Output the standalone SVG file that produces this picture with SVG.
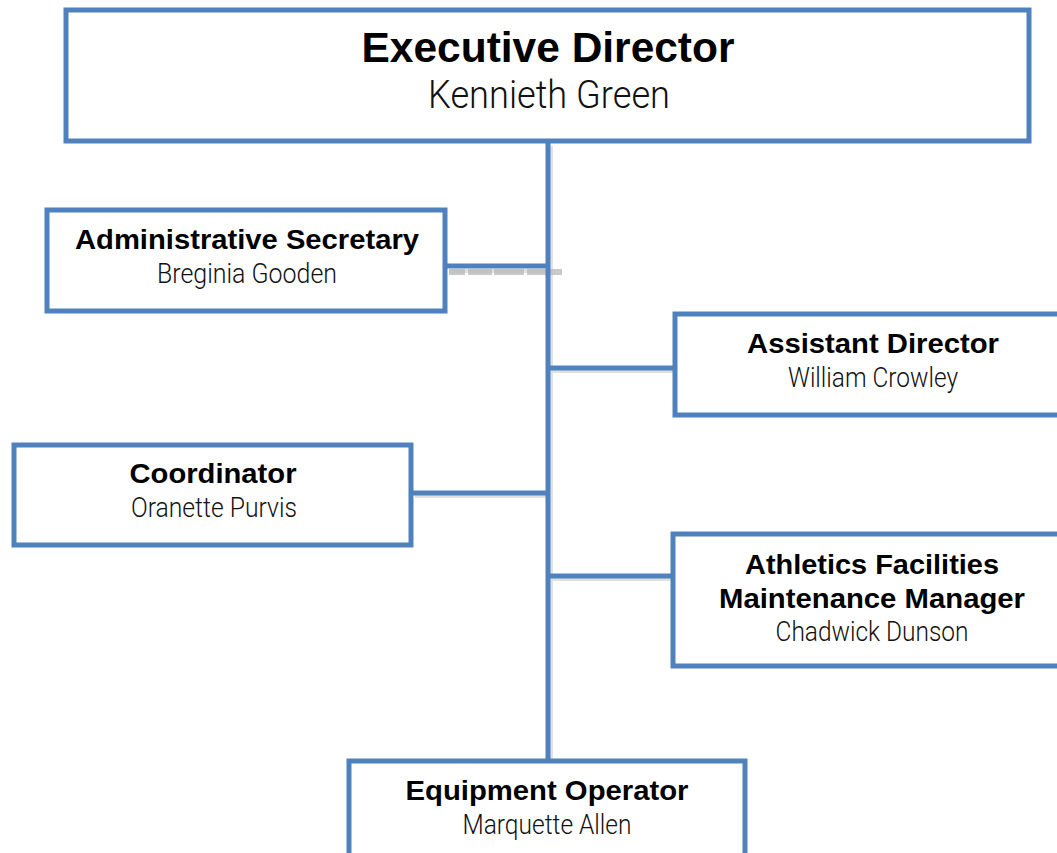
<svg xmlns="http://www.w3.org/2000/svg" width="1057" height="853" viewBox="0 0 1057 853">
<style>
.box{fill:#fff;stroke:#4F81BD;stroke-width:5}
.conn{stroke:#4F81BD;stroke-width:5;fill:none}
.sh{stroke:#000;stroke-opacity:0.12;stroke-width:4;fill:none}
.t{font-family:"Liberation Sans",Arial,sans-serif;font-weight:bold;fill:#000;text-anchor:middle}
.n{font-family:Roboto,"Liberation Sans",sans-serif;font-weight:300;fill:#111;text-anchor:middle}
</style>
<rect width="1057" height="853" fill="#fff"/>
<g id="connectors">
  <path class="sh" d="M551 146V760M449 271H550M551 371H675M415 496H550M551 579H673"/>
  <path d="M449 272H562" stroke="#b8b8b8" stroke-width="6" stroke-dasharray="16 3 24 2 30 3 40" opacity="0.75"/>
  <path class="conn" d="M548 141V761M447 266H548M548 368H675M413 493H548M548 576H673"/>
</g>
<g id="exec">
  <rect class="box" x="66" y="10" width="963" height="131"/>
  <text class="t" x="548" y="62" font-size="42" textLength="373" lengthAdjust="spacingAndGlyphs">Executive Director</text>
  <text class="n" x="549" y="108" font-size="39" textLength="242" lengthAdjust="spacingAndGlyphs">Kennieth Green</text>
</g>
<g id="admin">
  <rect class="box" x="47" y="210" width="398" height="101"/>
  <text class="t" x="247" y="249" font-size="28.5" textLength="344" lengthAdjust="spacingAndGlyphs">Administrative Secretary</text>
  <text class="n" x="247" y="283" font-size="28" textLength="180" lengthAdjust="spacingAndGlyphs">Breginia Gooden</text>
</g>
<g id="assistant">
  <rect class="box" x="675" y="314" width="400" height="101"/>
  <text class="t" x="873" y="353" font-size="28.5" textLength="252" lengthAdjust="spacingAndGlyphs">Assistant Director</text>
  <text class="n" x="873" y="387" font-size="28" textLength="170" lengthAdjust="spacingAndGlyphs">William Crowley</text>
</g>
<g id="coordinator">
  <rect class="box" x="14" y="445" width="397" height="100"/>
  <text class="t" x="213" y="483" font-size="28.5" textLength="167" lengthAdjust="spacingAndGlyphs">Coordinator</text>
  <text class="n" x="214" y="517" font-size="28" textLength="166" lengthAdjust="spacingAndGlyphs">Oranette Purvis</text>
</g>
<g id="athletics">
  <rect class="box" x="673" y="534" width="400" height="132"/>
  <text class="t" x="872" y="574" font-size="28.5" textLength="254" lengthAdjust="spacingAndGlyphs">Athletics Facilities</text>
  <text class="t" x="872" y="608" font-size="28.5" textLength="306" lengthAdjust="spacingAndGlyphs">Maintenance Manager</text>
  <text class="n" x="872" y="641" font-size="28" textLength="193" lengthAdjust="spacingAndGlyphs">Chadwick Dunson</text>
</g>
<g id="equipment">
  <rect class="box" x="349" y="761" width="396" height="100"/>
  <text class="t" x="547" y="800" font-size="28.5" textLength="283" lengthAdjust="spacingAndGlyphs">Equipment Operator</text>
  <text class="n" x="547" y="834" font-size="28" textLength="169" lengthAdjust="spacingAndGlyphs">Marquette Allen</text>
</g>
</svg>
